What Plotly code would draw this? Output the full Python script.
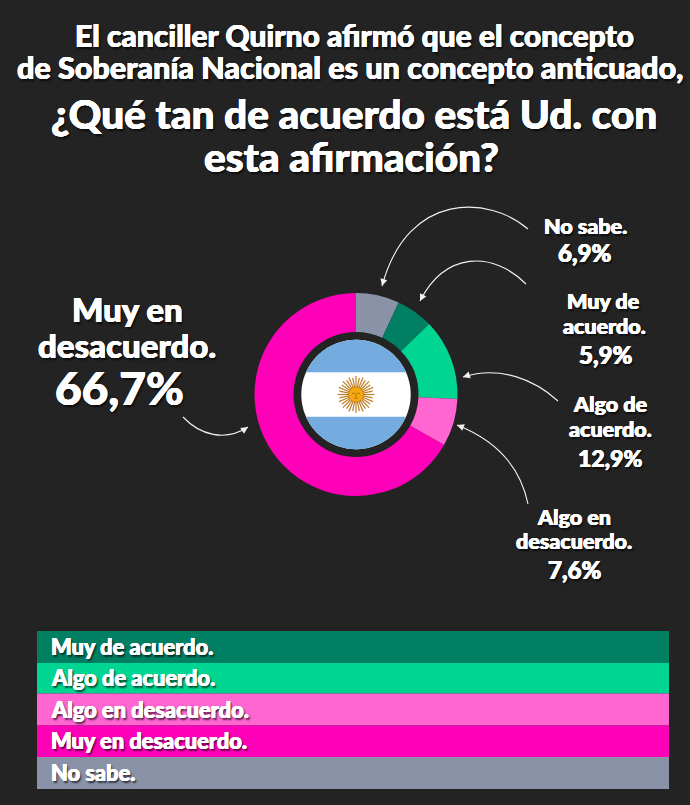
import numpy as np
import plotly.graph_objects as go

BG = '#232323'
FONT = 'Lato'

# Pie data, clockwise from the top
pie_labels = ['No sabe.', 'Muy de acuerdo.', 'Algo de acuerdo.', 'Algo en desacuerdo.', 'Muy en desacuerdo.']
pie_values = [6.9, 5.9, 12.9, 7.6, 66.7]
pie_colors = ['#8A92A8', '#007F63', '#00D692', '#FF66D2', '#FF00B9']

# Legend strip, top to bottom
legend_labels = ['Muy de acuerdo.', 'Algo de acuerdo.', 'Algo en desacuerdo.', 'Muy en desacuerdo.', 'No sabe.']
legend_colors = ['#007F63', '#00D692', '#FF66D2', '#FF00B9', '#8A92A8']
legend_edges = [631, 663, 693.5, 725.5, 757, 789]

title_lines = [
    ('El canciller Quirno afirmó que el concepto', 354, 35, 30),
    ('de Soberanía Nacional es un concepto anticuado,', 350, 67, 30.5),
    ('¿Qué tan de acuerdo está Ud. con', 354, 113, 40.5),
    ('esta afirmación?', 351, 156, 40.5),
]

# text, x, y, size
callouts = [
    ('No sabe.', 585, 226, 21.5), ('6,9%', 584, 252, 24),
    ('Muy de', 603, 301, 21.5), ('acuerdo.', 604, 326, 21.5), ('5,9%', 605, 354, 24),
    ('Algo de', 610, 404, 21.5), ('acuerdo.', 610, 429, 21.5), ('12,9%', 610, 458, 23),
    ('Algo en', 574, 517, 21.5), ('desacuerdo.', 574, 541, 21.5), ('7,6%', 574, 569, 24),
    ('Muy en', 127, 309, 33), ('desacuerdo.', 127, 345, 33), ('66,7%', 119, 387, 46),
]

# start, control 1, control 2, end (pixels)
arrows = [
    ((528, 229), (490, 196), (408, 190), (382, 286)),
    ((526, 284), (492, 250), (445, 252), (420, 301)),
    ((558, 401), (535, 380), (500, 365), (463, 377)),
    ((528, 504), (520, 465), (495, 440), (457, 425)),
    ((183, 417), (200, 435), (225, 442), (248, 427)),
]


def circle_path(cx, cy, r, a0=0, a1=2 * np.pi, n=120):
    t = np.linspace(a0, a1, n)
    pts = [f'{cx + r * np.cos(a):.2f} {cy + r * np.sin(a):.2f}' for a in t]
    return 'M' + ' L'.join(pts) + ' Z'


shapes = []

# legend strip
for i, col in enumerate(legend_colors):
    shapes.append(dict(type='rect', x0=37, x1=669, y0=legend_edges[i], y1=legend_edges[i + 1],
                       fillcolor=col, line_width=0))

# flag in the hole of the donut
cx, cy, r = 356, 394.5, 54.7
shapes.append(dict(type='path', path=circle_path(cx, cy, r), fillcolor='#FFFFFF', line_width=0))
band = np.arcsin(22.3 / r)
shapes.append(dict(type='path', path=circle_path(cx, cy, r, -np.pi + band, -band), fillcolor='#74ACDF', line_width=0))
shapes.append(dict(type='path', path=circle_path(cx, cy, r, band, np.pi - band), fillcolor='#74ACDF', line_width=0))

# sun
for k in range(32):
    a = k * 2 * np.pi / 32
    ray = 18.5 if k % 2 == 0 else 17
    shapes.append(dict(type='line', x0=cx + 6 * np.cos(a), y0=cy + 6 * np.sin(a),
                       x1=cx + ray * np.cos(a), y1=cy + ray * np.sin(a),
                       line=dict(color='#C07F2A', width=1.2)))
shapes.append(dict(type='path', path=circle_path(cx, cy, 7.5), fillcolor='#F6A90E',
                   line=dict(color='#B8760A', width=0.7)))
# face
for dx in (-2.7, 2.7):
    shapes.append(dict(type='line', x0=cx + dx - 1.3, y0=cy - 1.2, x1=cx + dx + 1.3, y1=cy - 1.2,
                       line=dict(color='#85540A', width=0.7)))
shapes.append(dict(type='line', x0=cx, y0=cy - 1, x1=cx, y1=cy + 2, line=dict(color='#85540A', width=0.7)))
shapes.append(dict(type='line', x0=cx - 1.8, y0=cy + 3.6, x1=cx + 1.8, y1=cy + 3.6,
                   line=dict(color='#85540A', width=0.7)))

# curved arrows
for p0, c1, c2, p1 in arrows:
    shapes.append(dict(type='path',
                       path=f'M{p0[0]} {p0[1]} C{c1[0]} {c1[1]} {c2[0]} {c2[1]} {p1[0]} {p1[1]}',
                       line=dict(color='#F2F2F2', width=1.1)))
    d = np.array(p1, float) - np.array(c2, float)
    d = d / np.hypot(*d)
    n = np.array([-d[1], d[0]])
    tip = np.array(p1, float)
    a = tip - d * 7 + n * 3.5
    b = tip - d * 7 - n * 3.5
    shapes.append(dict(type='path', path=f'M{tip[0]:.1f} {tip[1]:.1f} L{a[0]:.1f} {a[1]:.1f} L{b[0]:.1f} {b[1]:.1f} Z',
                       fillcolor='#F2F2F2', line_width=0))

annotations = []
# white offsets thicken the strokes, the font has no heavier cut
SHADOW = '0.4px 0 0 #fff, -0.4px 0 0 #fff, 0 0.3px 0 #fff, 1.5px 1.5px 2px rgba(0,0,0,0.7)'


def add_text(text, x, y, size, anchor='center'):
    annotations.append(dict(text=text, x=x, y=y, xref='x', yref='y', showarrow=False, xanchor=anchor, yanchor='middle',
                            font=dict(family=FONT, size=size, color='#FFFFFF', weight=900, shadow=SHADOW)))


for text, x, y, size in title_lines:
    add_text(text, x, y, size)
for text, x, y, size in callouts:
    add_text(text, x, y, size)
for i, label in enumerate(legend_labels):
    add_text(label, 49, (legend_edges[i] + legend_edges[i + 1]) / 2 - 0.5, 21.8, anchor='left')

fig = go.Figure()
fig.add_trace(go.Pie(
    labels=pie_labels,
    values=pie_values,
    sort=False,
    direction='clockwise',
    rotation=0,
    hole=0.616,
    marker=dict(colors=pie_colors, line=dict(width=0)),
    textinfo='none',
    showlegend=False,
    domain=dict(x=[254.5 / 690, 457.5 / 690], y=[1 - 496 / 805, 1 - 293 / 805]),
))

fig.update_layout(
    width=690,
    height=805,
    margin=dict(l=0, r=0, t=0, b=0),
    paper_bgcolor=BG,
    plot_bgcolor=BG,
    xaxis=dict(range=[0, 690], visible=False, fixedrange=True),
    yaxis=dict(range=[805, 0], visible=False, fixedrange=True),
    shapes=shapes,
    annotations=annotations,
)

fig.write_html('out.html', config=dict(displayModeBar=False),
               post_script="document.body.style.margin='0';document.body.style.background='#232323';")
